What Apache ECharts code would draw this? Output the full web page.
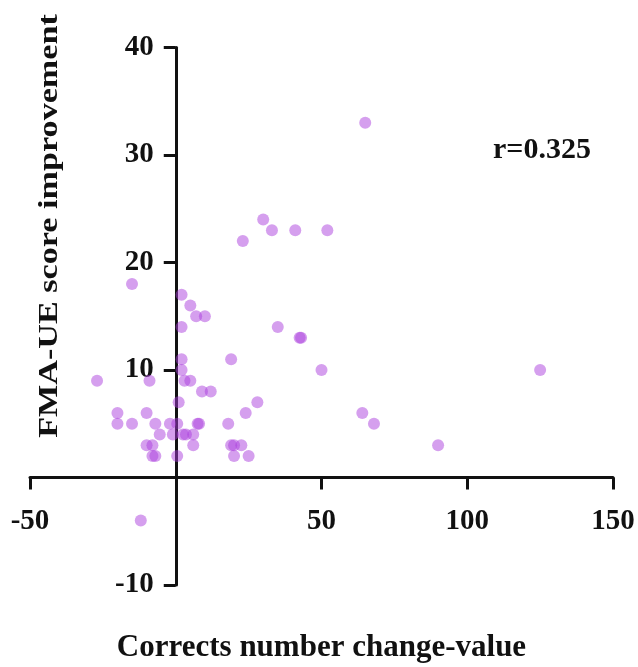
<!DOCTYPE html>
<html>
<head>
<meta charset="utf-8">
<script src="https://cdn.jsdelivr.net/npm/echarts@6/dist/echarts.min.js"></script>
<style>html,body{margin:0;padding:0;background:#fff}#c{width:638px;height:667px}</style>
</head>
<body>
<div id="c"></div>
<script>
var xValues = [65,30,33,41,52,23,-15,2,5,7,10,2,35,42.5,43,50,125,2,19,2,-27,-9,3,5,9,12,1,28,-20,-10,24,64,-20,-15,-7,-2,0.5,7.5,8,18,68,-5.5,-1,2.5,3.5,6,-10,-8,6,19,20,22.5,90,-8,-7,0.5,20,25,-12];
var yValues = [33,24,23,23,23,22,18,17,16,15,15,14,14,13,13,10,10,11,11,10,9,9,9,9,8,8,7,7,6,6,6,6,5,5,5,5,5,5,5,5,5,4,4,4,4,4,3,3,3,3,3,3,3,2,2,2,2,2,-4];
var xTicks = [-50, 50, 100, 150];
var yTicks = [-10, 10, 20, 30, 40];
var xTitle = 'Corrects number change-value';
var yTitle = 'FMA-UE score improvement';
var rText = 'r=0.325';

var W = 638, H = 667;
var gl = 30, gr = 25, gt = 47.5, gb = 82;
var xMin = -50, xMax = 150, yMin = -10, yMax = 40;
var gw = W - gl - gr, gh = H - gt - gb;
var xOff = -gh * (0 - yMin) / (yMax - yMin);
var yOff = -gw * (0 - xMin) / (xMax - xMin);

var pts = xValues.map(function(v, i){ return [v, yValues[i]]; });
var font = 'Liberation Serif';
var chart = echarts.init(document.getElementById('c'));
chart.setOption({
  animation: false,
  grid: {left: gl, right: gr, top: gt, bottom: gb, containLabel: false, outerBoundsMode: 'none'},
  title: {text: rText, left: 488, top: 130, textStyle: {fontFamily: font, fontWeight: 'bold', fontSize: 30, color: '#111'}},
  graphic: [{
    type: 'text', x: 36, y: 226, rotation: Math.PI/2, scaleX: 1.22,
    style: {text: yTitle, font: 'bold 28px "Liberation Serif"', fill: '#111', align: 'center', verticalAlign: 'top'}
  }],
  xAxis: {
    type: 'value', min: xMin, max: xMax, interval: 50, position: 'bottom', offset: xOff,
    name: xTitle, nameLocation: 'middle', nameGap: 155,
    nameTextStyle: {fontFamily: font, fontWeight: 'bold', fontSize: 31, color: '#111'},
    axisLine: {onZero: false, lineStyle: {color: '#111', width: 3}},
    axisTick: {length: 12, lineStyle: {color: '#111', width: 3}},
    axisLabel: {margin: 30, fontFamily: font, fontWeight: 'bold', fontSize: 29, color: '#111',
      formatter: function(v){ return xTicks.indexOf(v) >= 0 ? String(v) : ''; }},
    splitLine: {show: false}
  },
  yAxis: {
    type: 'value', min: yMin, max: yMax, interval: 10, position: 'left', offset: yOff,
    axisLine: {onZero: false, lineStyle: {color: '#111', width: 3}},
    axisTick: {length: 12, lineStyle: {color: '#111', width: 3}},
    axisLabel: {margin: 22, fontFamily: font, fontWeight: 'bold', fontSize: 29, color: '#111',
      formatter: function(v){ return yTicks.indexOf(v) >= 0 ? String(v) : ''; }},
    splitLine: {show: false}
  },
  series: [{
    type: 'scatter', data: pts, symbolSize: 12,
    itemStyle: {color: 'rgba(170,60,220,0.62)'}
  }]
});
</script>
</body>
</html>
